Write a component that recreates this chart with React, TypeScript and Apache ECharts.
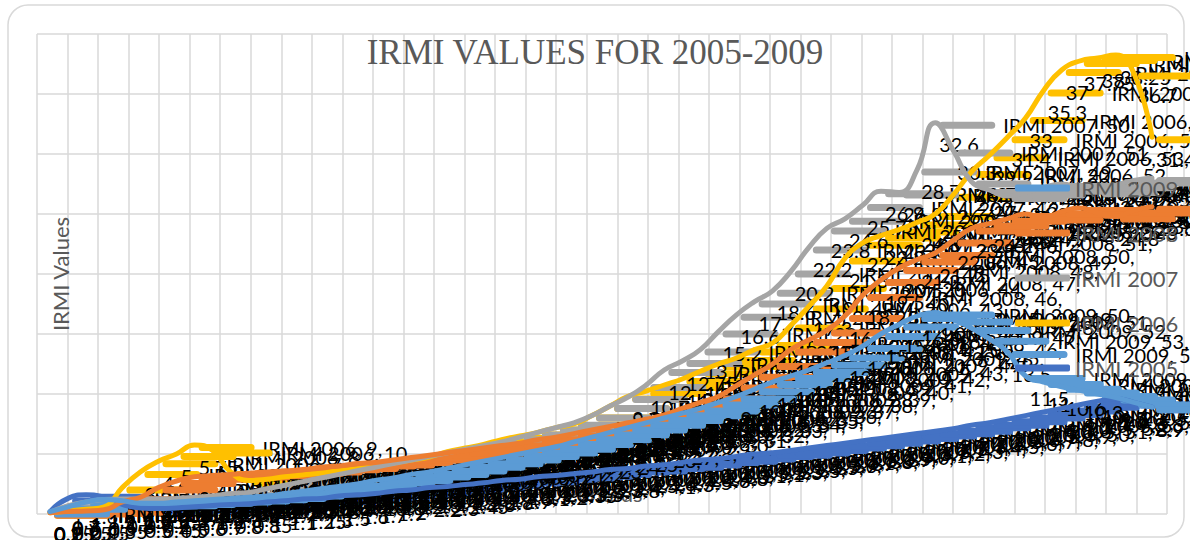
import React, { useEffect, useRef } from "react";
import * as echarts from "echarts";

const pentads: string[] = Array.from({ length: 62 }, (_, i) => String(i + 1));

const seriesNames = ["IRMI 2005", "IRMI 2006", "IRMI 2007", "IRMI 2008", "IRMI 2009"];

const irmi2005 = [
  0.2, 1.3, 1.6, 1.4, 0.8, 0.5, 0.45, 0.5, 0.6, 0.7,
  0.8, 0.85, 1.0, 1.1, 1.25, 1.3, 1.5, 1.6, 1.7, 1.9,
  2.0, 2.2, 2.3, 2.45, 2.6, 2.8, 2.9, 3.1, 3.2, 3.35,
  3.5, 3.7, 3.8, 4.0, 4.1, 4.3, 4.5, 4.6, 4.8, 5.0,
  5.1, 5.3, 5.5, 5.7, 5.9, 6.1, 6.3, 6.5, 6.7, 6.9,
  7.1, 7.4, 7.6, 7.9, 8.2, 8.5, 8.8, 9.1, 9.4, 9.6,
  9.3, 8.9,
];
const irmi2006 = [
  0.1, 0.25, 0.4, 0.6, 2.2, 3.5, 4.4, 5.0, 5.75, 5.3,
  3.5, 2.8, 2.9, 3.1, 3.25, 3.4, 3.6, 3.75, 4.0, 4.25,
  4.5, 4.75, 5.2, 5.5, 5.8, 6.2, 6.5, 6.8, 7.2, 7.5,
  8.2, 9.0, 9.8, 10.25, 10.75, 11.25, 11.9, 12.5, 13.0, 13.7,
  14.25, 15.7, 17.3, 19.0, 21.3, 22.6, 23.2, 23.7, 24.3, 25.0,
  26.6, 28.5, 29.9, 31.4, 33.0, 35.3, 37.0, 37.75, 38.0, 38.25,
  36.7, 31.4,
];
const irmi2007 = [
  0.15, 0.7, 1.0, 1.2, 1.25, 1.25, 1.25, 1.3, 1.4, 1.5,
  1.7, 1.8, 2.1, 2.4, 2.7, 3.0, 3.3, 3.6, 3.9, 4.2,
  4.5, 4.8, 5.1, 5.4, 5.7, 6.0, 6.4, 6.8, 7.2, 7.6,
  8.2, 9.0, 9.75, 10.75, 12.0, 12.75, 13.7, 15.2, 16.6, 17.7,
  18.6, 20.2, 22.2, 23.8, 24.6, 25.75, 26.9, 26.8, 28.7, 32.6,
  30.3, 27.7, 27.0, 26.5, 26.8, 27.2, 27.5, 27.1, 26.9, 27.4,
  27.8, 28.0,
];
const irmi2008 = [
  0.1, 0.2, 0.25, 0.35, 1.0, 1.4, 2.2, 2.75, 3.1, 3.2,
  3.3, 3.4, 3.5, 3.6, 3.7, 3.9, 4.0, 4.2, 4.3, 4.5,
  4.7, 4.9, 5.1, 5.3, 5.5, 5.7, 5.9, 6.2, 6.4, 6.7,
  7.0, 7.3, 7.6, 7.9, 8.25, 8.8, 9.3, 9.8, 10.7, 11.6,
  12.5, 13.7, 14.5, 15.3, 16.5, 18.25, 19.5, 20.5, 21.2, 21.75,
  22.8, 23.8, 24.2, 24.6, 25.0, 24.7, 25.2, 25.5, 25.1, 24.8,
  25.3, 25.6,
];
const irmi2009 = [
  0.2, 0.6, 1.0, 1.2, 1.1, 0.9, 0.9, 1.0, 1.1, 1.2,
  1.3, 1.4, 1.5, 1.7, 1.9, 2.1, 2.3, 2.5, 2.8, 3.0,
  3.3, 3.5, 3.8, 4.1, 4.4, 4.7, 5.0, 5.3, 5.6, 6.0,
  6.4, 6.8, 7.2, 7.6, 8.0, 8.4, 8.8, 9.3, 9.8, 10.4,
  11.0, 11.5, 12.0, 12.6, 13.2, 14.0, 15.0, 15.8, 16.5, 16.8,
  16.2, 15.5, 14.6, 13.5, 11.5, 11.0, 10.6, 10.3, 10.0, 9.7,
  9.3, 8.9,
];

const seriesValues = [irmi2005, irmi2006, irmi2007, irmi2008, irmi2009];
const seriesColors = ["#4472C4", "#FFC000", "#A5A5A5", "#ED7D31", "#5B9BD5"];
const yTicks = [0, 5, 10, 15, 20, 25, 30, 35, 40];
const legendOrder = ["IRMI 2009", "IRMI 2008", "IRMI 2007", "IRMI 2006", "IRMI 2005"];

export default function App() {
  const ref = useRef<HTMLDivElement>(null);

  useEffect(() => {
    document.body.style.margin = "0";
    if (!ref.current) return;
    const chart = echarts.init(ref.current, null, { renderer: "svg" });

    const lineSeries = seriesNames.map((name, i) => ({
      name,
      type: "line",
      xAxisIndex: 1,
      yAxisIndex: 1,
      data: seriesValues[i],
      smooth: true,
      symbol: "none",
      lineStyle: { width: 5, color: seriesColors[i], cap: "round" },
      itemStyle: { color: seriesColors[i] },
      emphasis: { disabled: true },
      z: 10 + i,
    }));

    const labelSeries = seriesNames.map((name, i) => ({
      name,
      type: "line",
      xAxisIndex: 1,
      yAxisIndex: 1,
      data: seriesValues[i],
      smooth: true,
      showSymbol: true,
      symbol: "circle",
      symbolSize: 0.1,
      lineStyle: { width: 0, opacity: 0, color: seriesColors[i] },
      itemStyle: { color: seriesColors[i] },
      emphasis: { disabled: true },
      label: {
        show: true,
        position: "right",
        distance: 4,
        textBorderWidth: 0,
        formatter: (p: any) => `{k|}{g|}{t|${p.seriesName}, ${p.name},}\n{t|${p.value}}`,
        rich: {
          k: { width: 56, height: 7, backgroundColor: seriesColors[i], borderRadius: 3.5 },
          g: { width: 8 },
          t: { fontSize: 20, color: "#000000", fontFamily: "Lato", lineHeight: 19, textBorderWidth: 0 },
        },
      },
      labelLayout: () => ({ dy: 12, hideOverlap: false }),
      z: 3 + i,
    }));

    chart.setOption({
      animation: false,
      backgroundColor: "#ffffff",
      title: {
        text: "IRMI VALUES FOR 2005-2009",
        left: "center",
        top: 30,
        textStyle: {
          fontFamily: "Liberation Serif",
          fontWeight: "normal",
          fontSize: 35,
          color: "#595959",
        },
      },
      legend: {
        data: legendOrder,
        orient: "vertical",
        left: 1010,
        top: 172,
        itemGap: 23,
        itemWidth: 55,
        itemHeight: 7,
        icon: "roundRect",
        textStyle: { color: "#595959", fontSize: 22, fontFamily: "Lato" },
        z: 20,
      },
      grid: [
        { left: 37, top: 34, width: 1130, height: 480, containLabel: false },
        { left: 50, top: 34, width: 1102, height: 480, containLabel: false },
      ],
      xAxis: [
        {
          type: "value",
          gridIndex: 0,
          min: 0,
          max: 37,
          interval: 1,
          axisLine: { show: false },
          axisTick: { show: false },
          axisLabel: { show: false },
          splitLine: { show: true, lineStyle: { color: "#d9d9d9", width: 1.5 } },
        },
        {
          type: "category",
          gridIndex: 1,
          data: pentads,
          boundaryGap: false,
          axisLine: { show: false },
          axisTick: { show: false },
          axisLabel: { show: false },
          splitLine: { show: false },
        },
      ],
      yAxis: [
        {
          type: "value",
          gridIndex: 0,
          min: yTicks[0],
          max: yTicks[yTicks.length - 1],
          interval: 5,
          axisLine: { show: false },
          axisTick: { show: false },
          axisLabel: { show: false },
          splitLine: { show: true, lineStyle: { color: "#d9d9d9", width: 1.5 } },
        },
        {
          type: "value",
          gridIndex: 1,
          min: yTicks[0],
          max: yTicks[yTicks.length - 1],
          interval: 5,
          axisLine: { show: false },
          axisTick: { show: false },
          axisLabel: { show: false },
          splitLine: { show: false },
        },
      ],
      graphic: [
        {
          type: "rect",
          shape: { x: 8, y: 5, width: 1176, height: 532, r: 20 },
          style: { fill: "none", stroke: "#d9d9d9", lineWidth: 1.5 },
          silent: true,
          z: -10,
        },
        {
          type: "text",
          x: 60,
          y: 274,
          rotation: Math.PI / 2,
          style: {
            text: "IRMI Values",
            fill: "#595959",
            fontSize: 22,
            fontFamily: "Lato",
            align: "center",
            verticalAlign: "middle",
          },
          z: 1,
        },
        {
          type: "text",
          x: 604,
          y: 493,
          style: {
            text: "Pentads",
            fill: "#595959",
            fontSize: 22,
            fontFamily: "Lato",
            align: "center",
            verticalAlign: "middle",
          },
          z: 1,
        },
      ],
      series: [...labelSeries, ...lineSeries],
    });

    return () => chart.dispose();
  }, []);

  return <div ref={ref} style={{ width: 1190, height: 540 }} />;
}
